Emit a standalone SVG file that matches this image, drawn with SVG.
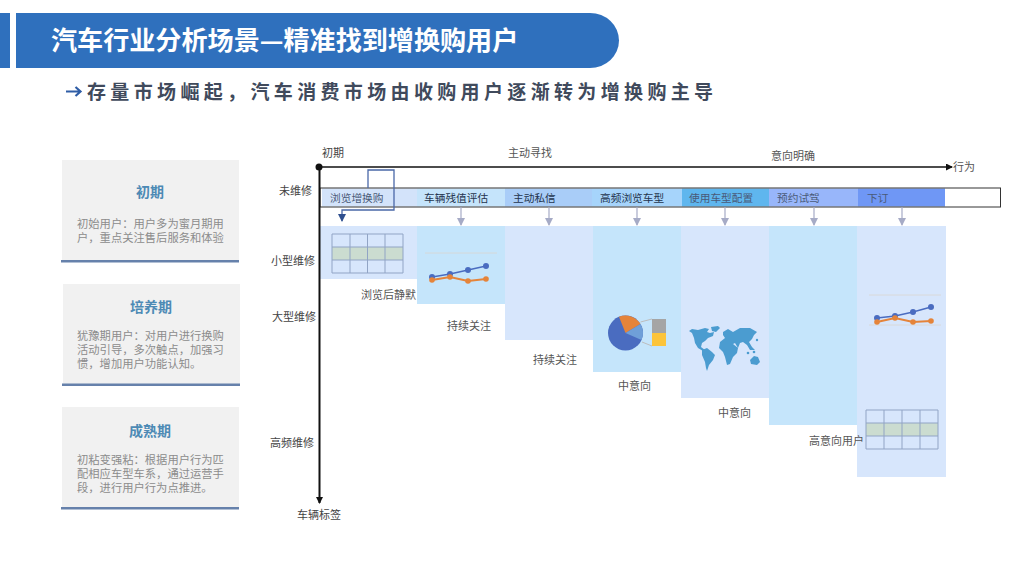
<svg xmlns="http://www.w3.org/2000/svg" width="1024" height="574" viewBox="0 0 1024 574">
<style>
text{font-family:"Noto Sans CJK SC","Noto Sans",sans-serif}
.lab{font-size:11px;fill:#444}
.sub{font-size:11px;fill:#555}
.bt{font-size:10.7px;fill:#4a5a78}
.bd{font-size:10.7px;fill:#24344e}
.card{fill:#f1f1f1}
.rule{fill:#6681ab}
.h{font-size:14px;font-weight:700;fill:#4d8ab5;text-anchor:middle}
.b{font-size:11.3px;fill:#8c8c8c}
.blue{fill:#d7e6fc}
.cyan{fill:#c5e5fb}
.grid{fill:none;stroke:#91a4c5;stroke-width:1}
.row{fill:#cbdcd0}
.bl{fill:none;stroke:#4a6cc0;stroke-width:1.5}
.or{fill:none;stroke:#e5843a;stroke-width:2}
.bd1{fill:#4a6cc0}
.od{fill:#e5843a}
.gl{stroke:#d9d5d0;stroke-width:.8;fill:none}
.ax{stroke:#111;fill:none}
.ga{stroke:#a6abc6;stroke-width:1.2;fill:none;marker-end:url(#ag)}
.map{fill:#4b9cd0}
</style>
<defs>
<marker id="ab" markerWidth="7" markerHeight="7" refX="6" refY="3.5" orient="auto" markerUnits="userSpaceOnUse"><path d="M0,0 L7,3.5 L0,7 Z" fill="#111"/></marker>
<marker id="ag" markerWidth="8" markerHeight="8" refX="7" refY="4" orient="auto" markerUnits="userSpaceOnUse"><path d="M0,0 L8,4 L0,8 Z" fill="#a6abc6"/></marker>
<marker id="an" markerWidth="8" markerHeight="8" refX="7" refY="4" orient="auto" markerUnits="userSpaceOnUse"><path d="M0,0 L8,4 L0,8 Z" fill="#2f4f8f"/></marker>
</defs>
<rect width="1024" height="574" fill="#fff"/>

<g id="header">
<rect x="0" y="13" width="10" height="55" fill="#2f70bd"/>
<path d="M16,13 H590 A29,27.500 0 0 1 590,68 H16 Z" fill="#2f70bd"/>
<text x="51" y="49.500" font-size="26.100" font-weight="700" fill="#fff">汽车行业分析场景—精准找到增换购用户</text>
<path d="M66,91.500 H80 M75.500,87 L80.500,91.500 L75.500,96" fill="none" stroke="#2f5da6" stroke-width="2.200"/>
<text x="87" y="98.500" font-size="19" font-weight="700" fill="#404a5c" letter-spacing="4.350">存量市场崛起，汽车消费市场由收购用户逐渐转为增换购主导</text>
</g>

<g id="card-1">
<rect class="card" x="62" y="160" width="177" height="101"/><rect class="rule" x="61" y="260" width="178" height="2.500"/>
<text class="h" x="150" y="197">初期</text>
<text class="b"><tspan x="77" y="227.500">初始用户：用户多为蜜月期用</tspan><tspan x="77" y="241.500">户，重点关注售后服务和体验</tspan></text>
</g>
<g id="card-2">
<rect class="card" x="63" y="284" width="177" height="101"/><rect class="rule" x="62" y="383.500" width="178" height="2.500"/>
<text class="h" x="151" y="311.500">培养期</text>
<text class="b"><tspan x="77" y="339.500">犹豫期用户：对用户进行换购</tspan><tspan x="77" y="353.500">活动引导，多次触点，加强习</tspan><tspan x="77" y="367.500">惯，增加用户功能认知。</tspan></text>
</g>
<g id="card-3">
<rect class="card" x="62" y="407" width="177" height="102"/><rect class="rule" x="61" y="507" width="178" height="2.500"/>
<text class="h" x="150" y="435.500">成熟期</text>
<text class="b"><tspan x="77" y="463.500">初粘变强粘：根据用户行为匹</tspan><tspan x="77" y="477.500">配相应车型车系，通过运营手</tspan><tspan x="77" y="491.500">段，进行用户行为点推进。</tspan></text>
</g>

<g id="panels">
<rect class="blue" x="320" y="226" width="97" height="53"/>
<rect class="cyan" x="417" y="226" width="88" height="78"/>
<rect class="blue" x="505" y="226" width="88" height="114"/>
<rect class="cyan" x="593" y="226" width="88" height="146"/>
<rect class="blue" x="681" y="226" width="88" height="172"/>
<rect class="cyan" x="769" y="226" width="88" height="199"/>
<rect class="blue" x="857" y="226" width="89" height="251"/>
</g>

<g id="behavior-band">
<rect x="320" y="188" width="680.500" height="19" fill="#fff"/>
<rect x="322" y="188.500" width="95" height="18" fill="#d3e3fa"/>
<rect x="417" y="188.500" width="88" height="18" fill="#c5e4fb"/>
<rect x="505" y="188.500" width="87" height="18" fill="#a9cdf8"/>
<rect x="592" y="188.500" width="90" height="18" fill="#a6d4fb"/>
<rect x="682" y="188.500" width="87" height="18" fill="#5fb6ee"/>
<rect x="769" y="188.500" width="89" height="18" fill="#98b6fa"/>
<rect x="858" y="188.500" width="87" height="18" fill="#6f97f5"/>
<rect x="320" y="188" width="680.500" height="19" fill="none" stroke="#333" stroke-width="1"/>
<text class="bt" x="330" y="201.500">浏览增换购</text>
<text class="bd" x="424" y="201.500">车辆残值评估</text>
<text class="bd" x="513" y="201.500">主动私信</text>
<text class="bd" x="600" y="201.500">高频浏览车型</text>
<text class="bt" x="689" y="201.500">使用车型配置</text>
<text class="bt" x="777" y="201.500">预约试驾</text>
<text class="bt" x="867" y="201.500">下订</text>
</g>

<g id="connectors">
<circle cx="319" cy="167" r="3.500" fill="#111"/>
<path class="ax" d="M319,167 H952" stroke-width="1.500" marker-end="url(#ab)"/>
<path class="ax" d="M319.500,167 V503" stroke-width="2" marker-end="url(#ab)"/>
<path d="M368,188 V170 H394 V210 H342 V221" fill="none" stroke="#4a68a8" stroke-width="1.300" marker-end="url(#an)"/>
<path class="ga" d="M461,207 V225"/>
<path class="ga" d="M549,207 V225"/>
<path class="ga" d="M637,207 V225"/>
<path class="ga" d="M725,207 V225"/>
<path class="ga" d="M814,207 V225"/>
<path class="ga" d="M902,207 V225"/>
</g>

<g id="axis-labels">
<text class="lab" x="322" y="157">初期</text>
<text class="sub" x="508" y="157">主动寻找</text>
<text class="sub" x="771" y="160">意向明确</text>
<text class="sub" x="953" y="171">行为</text>
<text class="lab" x="279" y="195">未维修</text>
<text class="lab" x="271" y="265">小型维修</text>
<text class="lab" x="272" y="321">大型维修</text>
<text class="lab" x="270" y="447">高频维修</text>
<text class="lab" x="297" y="519">车辆标签</text>
</g>

<g id="stage-labels">
<text class="sub" x="361" y="298.500">浏览后静默</text>
<text class="sub" x="447" y="329.500">持续关注</text>
<text class="sub" x="533" y="363.500">持续关注</text>
<text class="sub" x="618" y="389.500">中意向</text>
<text class="sub" x="718" y="416.500">中意向</text>
<text class="sub" x="809" y="444.500">高意向用户</text>
</g>

<g id="table-1">
<rect class="row" x="332" y="247" width="71" height="13"/>
<path class="grid" d="M332,234 H403 V273 H332 Z M332,247 H403 M332,260 H403 M350,234 V273 M367.500,234 V273 M385,234 V273"/>
</g>
<g id="chart-1">
<path class="gl" d="M425,253 H497"/>
<path class="bl" d="M432,277 L450,274 L468,270 L486,266"/>
<circle class="bd1" cx="432" cy="277" r="3"/><circle class="bd1" cx="450" cy="274" r="3"/><circle class="bd1" cx="468" cy="270" r="3"/><circle class="bd1" cx="486" cy="266" r="3"/>
<path class="or" d="M432,280 L450,277 L468,281 L486,279"/>
<circle class="od" cx="432" cy="280" r="2.800"/><circle class="od" cx="450" cy="277" r="2.800"/><circle class="od" cx="468" cy="281" r="2.800"/><circle class="od" cx="486" cy="279" r="2.800"/>
</g>
<g id="pie">
<circle cx="625.500" cy="333" r="17.500" fill="#4a6cc0"/>
<path d="M625.500,333 L619,316.700 A17.500,17.500 0 0 1 640.500,324 Z" fill="#e5843a"/>
<path d="M625.500,333 L640.500,324 A17.500,17.500 0 0 1 641.500,340 Z" fill="#6f9fd8"/>
<path d="M640.500,322 L652,319 M642,342 L652,346" stroke="#bdbdbd" stroke-width="1" fill="none"/>
<rect x="652" y="319" width="14" height="14" fill="#a5a5a5"/>
<rect x="652" y="333" width="14" height="13" fill="#fcc43a"/>
</g>
<g id="world-map" class="map">
<path d="M689,331 L692,329 L698,330 L705,328 L709,329 L707,332 L710,333 L714,332 L713,336 L708,338 L705,341 L702,343 L701,347 L705,350 L703,351 L698,348 L695,343 L694,338 L692,333 Z"/>
<path d="M711,327 L718,326 L720,328 L716,332 L712,331 Z"/>
<path d="M702,350 L707,348 L712,352 L715,355 L713,360 L709,365 L707,371 L706,368 L705,362 L702,355 Z"/>
<path d="M723,332 L728,329 L733,332 L740,328 L750,328 L757,332 L754,335 L752,339 L749,342 L752,347 L755,350 L750,350 L747,345 L743,342 L740,343 L738,348 L735,343 L733,344 L738,348 L737,353 L733,357 L730,364 L727,365 L725,357 L723,352 L719,348 L720,342 L725,338 L723,335 Z"/>
<path d="M750,360 L754,356 L758,357 L760,362 L757,365 L751,364 Z"/>
<circle cx="748" cy="353" r="1.300"/><circle cx="754" cy="352" r="1.300"/><circle cx="757" cy="340" r="1.200"/>
</g>
<g id="chart-2">
<path class="gl" d="M869,295 H941 M869,325 H941"/>
<path class="bl" d="M877,318 L895,316 L913,312 L931,307"/>
<circle class="bd1" cx="877" cy="318" r="3"/><circle class="bd1" cx="895" cy="316" r="3"/><circle class="bd1" cx="913" cy="312" r="3"/><circle class="bd1" cx="931" cy="307" r="3"/>
<path class="or" d="M877,322 L895,318 L913,322 L931,321"/>
<circle class="od" cx="877" cy="322" r="2.800"/><circle class="od" cx="895" cy="318" r="2.800"/><circle class="od" cx="913" cy="322" r="2.800"/><circle class="od" cx="931" cy="321" r="2.800"/>
</g>
<g id="table-2">
<rect class="row" x="866" y="423" width="72" height="13"/>
<path class="grid" d="M866,410 H938 V449 H866 Z M866,423 H938 M866,436 H938 M884,410 V449 M902,410 V449 M920,410 V449"/>
</g>
</svg>
